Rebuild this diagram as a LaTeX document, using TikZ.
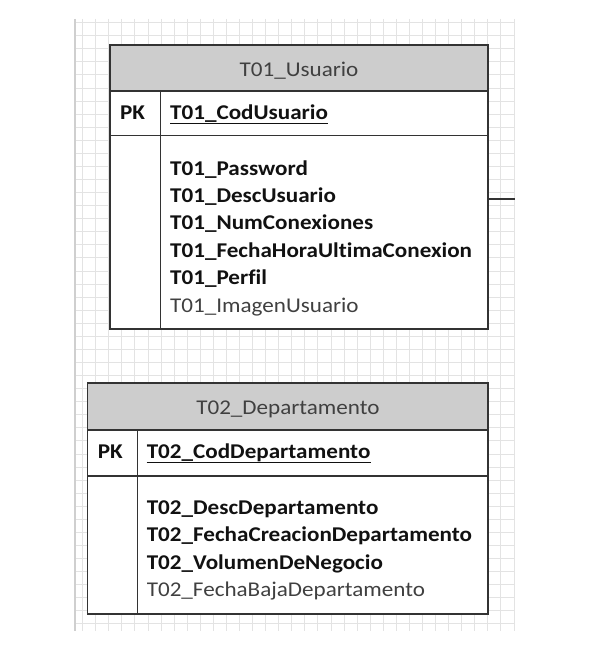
\documentclass[tikz,border=0pt]{standalone}
\usepackage{fontspec}
\setmainfont{Carlito}[FakeStretch=1.1, Ligatures={NoCommon,NoRare}]
\definecolor{gridc}{HTML}{E3E3E3}
\definecolor{gridedge}{HTML}{CFCFCF}
\definecolor{linec}{HTML}{333333}
\definecolor{headc}{HTML}{CDCDCD}
\definecolor{txtbold}{HTML}{111111}
\definecolor{txtreg}{HTML}{404040}
\tikzset{
  tbl/.style={draw=linec, line width=1.3bp},
  hdr/.style={tbl, fill=headc},
  body/.style={tbl, fill=white},
  sep/.style={draw=linec, line width=1.3bp},
  hdrtxt/.style={anchor=base, inner sep=0pt, text=txtreg, font=\fontsize{21bp}{24bp}\selectfont},
  attb/.style={anchor=base west, inner sep=0pt, text=txtbold, font=\fontsize{21bp}{24bp}\selectfont\bfseries},
  attr/.style={anchor=base west, inner sep=0pt, text=txtreg, font=\fontsize{21bp}{24bp}\selectfont},
  gridl/.style={draw=gridc, line width=1bp},
}
\begin{document}
\begin{tikzpicture}[x=1bp,y=-1bp]
\useasboundingbox (0,0) rectangle (593,650);
\fill[white] (0,0) rectangle (593,650);
% grid
\foreach \k in {0,...,33} { \draw[gridl] ({82.7+\k*13.07},19) -- ({82.7+\k*13.07},631); }
\foreach \k in {0,...,46} { \draw[gridl] (75,{22.7+\k*13.07}) -- (515,{22.7+\k*13.07}); }
\draw[draw=gridedge, line width=1.5bp] (75,19) -- (75,631);
% table 1
\path[hdr] (110,45) rectangle (488,91);
\path[body] (110,91) rectangle (488,135.7);
\path[body] (110,135.7) rectangle (488,329);
\draw[sep] (160.7,91) -- (160.7,329);
\node[hdrtxt] (h1) at (299,76.7) {T01\_Usuario};
\node[attb] (pk1) at (120,119.3) {PK};
\node[attb] (k1) at (170,119.3) {T01\_CodUsuario};
\draw[txtbold, line width=1.1bp] ([yshift=-4.2bp]k1.base west) -- ([yshift=-4.2bp]k1.base east);
\node[attb] (a11) at (170,175) {T01\_Password};
\node[attb] (a12) at (170,202.4) {T01\_DescUsuario};
\node[attb] (a13) at (170,229.8) {T01\_NumConexiones};
\node[attb] (a14) at (170,257.2) {T01\_FechaHoraUltimaConexion};
\node[attb] (a15) at (170,284.6) {T01\_Perfil};
\node[attr] (a16) at (170,312) {T01\_ImagenUsuario};
\coordinate (t1r) at (488,199);
\coordinate (gend) at (515,199);
\draw[sep, line width=1.1bp] (t1r) -- (gend);
% table 2
\path[hdr] (87.7,383) rectangle (488,430);
\path[body] (87.7,430) rectangle (488,476);
\path[body] (87.7,476) rectangle (488,614);
\draw[sep] (137.3,430) -- (137.3,614);
\node[hdrtxt] (h2) at (287.9,414.7) {T02\_Departamento};
\node[attb] (pk2) at (97.7,458.3) {PK};
\node[attb] (k2) at (146.6,458.3) {T02\_CodDepartamento};
\draw[txtbold, line width=1.1bp] ([yshift=-4.2bp]k2.base west) -- ([yshift=-4.2bp]k2.base east);
\node[attb] (a21) at (146.6,514.5) {T02\_DescDepartamento};
\node[attb] (a22) at (146.6,541.9) {T02\_FechaCreacionDepartamento};
\node[attb] (a23) at (146.6,569.3) {T02\_VolumenDeNegocio};
\node[attr] (a24) at (146.6,596.7) {T02\_FechaBajaDepartamento};
\end{tikzpicture}
\end{document}
